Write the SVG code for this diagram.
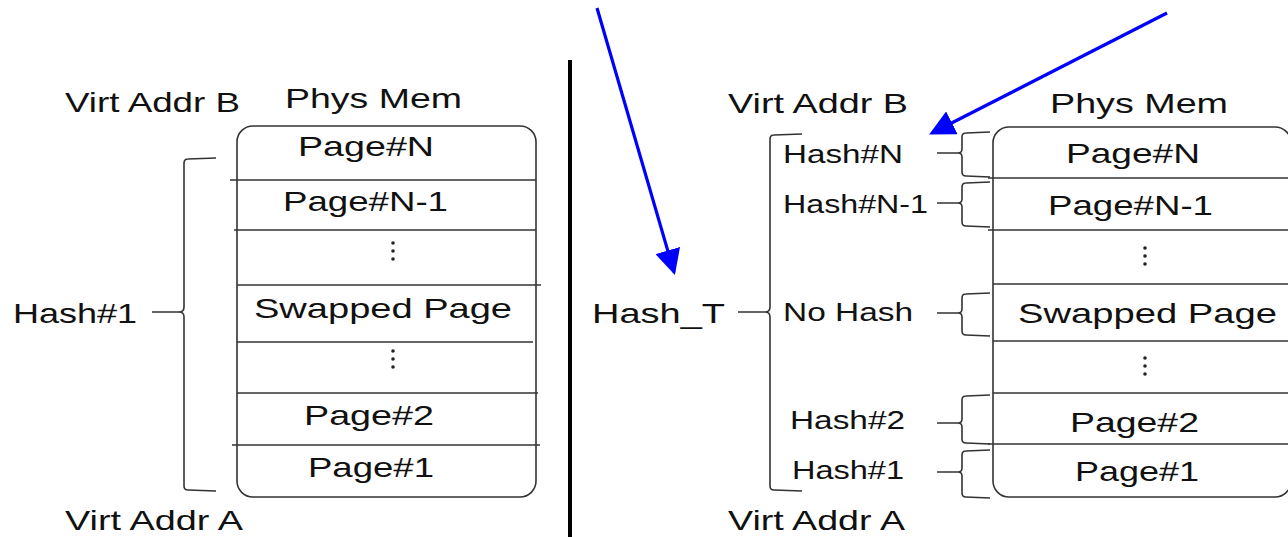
<svg xmlns="http://www.w3.org/2000/svg" width="1288" height="537" viewBox="0 0 1288 537">
<style>
text{font-family:"Liberation Sans",Arial,sans-serif;fill:#111}
.big{font-size:28px}
.sm{font-size:25px}
.ln{stroke:#333;stroke-width:1.6;fill:none}
.dot{fill:#222}
.blue{stroke:#0000ff;stroke-width:3.2;fill:none}
</style>
<defs>
<marker id="ah" markerWidth="8" markerHeight="8" refX="7" refY="4" orient="auto" markerUnits="strokeWidth">
<path d="M0,0 L8,4 L0,8 Z" fill="#0000ff"/>
</marker>
</defs>
<rect width="1288" height="537" fill="#fff"/>

<g id="divider"><line x1="570" y1="60" x2="570" y2="537" stroke="#000" stroke-width="4"/></g>

<g id="left-panel">
<text class="big" x="65" y="112" textLength="175" lengthAdjust="spacingAndGlyphs">Virt Addr B</text>
<text class="big" x="285" y="108" textLength="177" lengthAdjust="spacingAndGlyphs">Phys Mem</text>
<text class="big" x="65" y="530" textLength="178" lengthAdjust="spacingAndGlyphs">Virt Addr A</text>
<text class="big" x="13" y="323" textLength="124" lengthAdjust="spacingAndGlyphs">Hash#1</text>
<g id="left-mem">
<rect class="ln" x="237" y="126" width="299" height="371" rx="16"/>
<line class="ln" x1="230" y1="180" x2="536" y2="180"/>
<line class="ln" x1="234" y1="230" x2="536" y2="230"/>
<line class="ln" x1="237" y1="285" x2="541" y2="285"/>
<line class="ln" x1="237" y1="342" x2="533" y2="342"/>
<line class="ln" x1="237" y1="393" x2="538" y2="393"/>
<line class="ln" x1="232" y1="445" x2="540" y2="445"/>
<text class="big" x="298" y="156" textLength="136" lengthAdjust="spacingAndGlyphs">Page#N</text>
<text class="big" x="283" y="211" textLength="165" lengthAdjust="spacingAndGlyphs">Page#N-1</text>
<circle class="dot" cx="393" cy="243" r="1.8"/><circle class="dot" cx="393" cy="251" r="1.8"/><circle class="dot" cx="393" cy="259" r="1.8"/>
<text class="big" x="254" y="318" textLength="258" lengthAdjust="spacingAndGlyphs">Swapped Page</text>
<circle class="dot" cx="393" cy="351" r="1.8"/><circle class="dot" cx="393" cy="359" r="1.8"/><circle class="dot" cx="393" cy="367" r="1.8"/>
<text class="big" x="304" y="425" textLength="130" lengthAdjust="spacingAndGlyphs">Page#2</text>
<text class="big" x="308" y="477" textLength="126" lengthAdjust="spacingAndGlyphs">Page#1</text>
</g>
<path id="left-brace" class="ln" d="M216,158 L188,159 Q184,159 184,163 L184,307 Q184,312 179,312 L152,312 M179,312 Q184,312 184,317 L184,486 Q184,490 188,490 L216,491"/>
</g>

<g id="right-panel">
<text class="big" x="728" y="113" textLength="180" lengthAdjust="spacingAndGlyphs">Virt Addr B</text>
<text class="big" x="1050" y="113" textLength="178" lengthAdjust="spacingAndGlyphs">Phys Mem</text>
<text class="big" x="728" y="530" textLength="177" lengthAdjust="spacingAndGlyphs">Virt Addr A</text>
<text class="big" x="592" y="323" textLength="133" lengthAdjust="spacingAndGlyphs">Hash_T</text>
<path id="right-brace" class="ln" d="M802,134 L774,135 Q770,135 770,139 L770,307 Q770,312 765,312 L738,312 M765,312 Q770,312 770,317 L770,486 Q770,490 774,490 L802,491"/>
<g id="hash-labels">
<text class="sm" x="783" y="163" textLength="120" lengthAdjust="spacingAndGlyphs">Hash#N</text>
<text class="sm" x="783" y="213" textLength="145" lengthAdjust="spacingAndGlyphs">Hash#N-1</text>
<text class="sm" x="783" y="321" textLength="130" lengthAdjust="spacingAndGlyphs">No Hash</text>
<text class="sm" x="790" y="429" textLength="115" lengthAdjust="spacingAndGlyphs">Hash#2</text>
<text class="sm" x="792" y="479" textLength="112" lengthAdjust="spacingAndGlyphs">Hash#1</text>
</g>
<g id="small-braces">
<path class="ln" d="M990,132 L966,133 Q962,133 962,137 L962,149 Q962,153 958,153 L937,153 M958,153 Q962,153 962,157 L962,172 Q962,176 966,176 L990,177"/>
<path class="ln" d="M990,182 L966,183 Q962,183 962,187 L962,199 Q962,203 958,203 L937,203 M958,203 Q962,203 962,207 L962,222 Q962,226 966,226 L990,227"/>
<path class="ln" d="M990,293 L966,294 Q962,294 962,298 L962,309 Q962,313 958,313 L937,313 M958,313 Q962,313 962,317 L962,331 Q962,335 966,335 L990,336"/>
<path class="ln" d="M990,395 L966,396 Q962,396 962,400 L962,419 Q962,423 958,423 L937,423 M958,423 Q962,423 962,427 L962,439 Q962,443 966,443 L990,444"/>
<path class="ln" d="M990,450 L966,451 Q962,451 962,455 L962,468 Q962,472 958,472 L937,472 M958,472 Q962,472 962,476 L962,493 Q962,497 966,497 L990,498"/>
</g>
<g id="right-mem">
<rect class="ln" x="993" y="127" width="298" height="370" rx="16"/>
<line class="ln" x1="988" y1="178" x2="1288" y2="178"/>
<line class="ln" x1="988" y1="230" x2="1288" y2="230"/>
<line class="ln" x1="993" y1="284" x2="1288" y2="284"/>
<line class="ln" x1="993" y1="341" x2="1288" y2="341"/>
<line class="ln" x1="993" y1="393" x2="1288" y2="393"/>
<line class="ln" x1="988" y1="444" x2="1288" y2="444"/>
<text class="big" x="1066" y="163" textLength="134" lengthAdjust="spacingAndGlyphs">Page#N</text>
<text class="big" x="1048" y="215" textLength="165" lengthAdjust="spacingAndGlyphs">Page#N-1</text>
<circle class="dot" cx="1145" cy="248" r="1.8"/><circle class="dot" cx="1145" cy="256" r="1.8"/><circle class="dot" cx="1145" cy="264" r="1.8"/>
<text class="big" x="1018" y="323" textLength="259" lengthAdjust="spacingAndGlyphs">Swapped Page</text>
<circle class="dot" cx="1145" cy="358" r="1.8"/><circle class="dot" cx="1145" cy="366" r="1.8"/><circle class="dot" cx="1145" cy="374" r="1.8"/>
<text class="big" x="1070" y="432" textLength="129" lengthAdjust="spacingAndGlyphs">Page#2</text>
<text class="big" x="1075" y="481" textLength="124" lengthAdjust="spacingAndGlyphs">Page#1</text>
</g>
</g>

<g id="connectors">
<line class="blue" x1="597" y1="8" x2="674" y2="272" marker-end="url(#ah)"/>
<line class="blue" x1="1167" y1="13" x2="932" y2="133" marker-end="url(#ah)"/>
</g>
</svg>
